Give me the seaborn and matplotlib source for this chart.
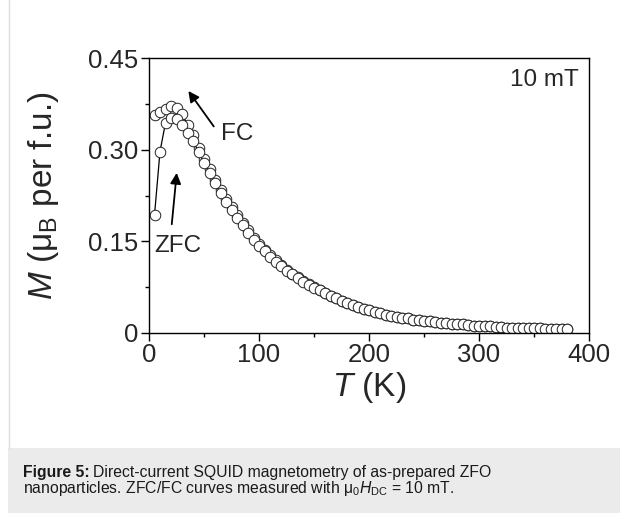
import matplotlib
matplotlib.use("Agg")
import matplotlib.pyplot as plt
from matplotlib.patches import Rectangle
from matplotlib.lines import Line2D
from matplotlib.ticker import MultipleLocator, FixedLocator
import numpy as np
import pandas as pd
import seaborn as sns

# Temperature grid (K) shared by both sweeps
temperature = [
    5, 10, 15, 20, 25, 30, 35, 40, 45, 50, 55, 60, 65, 70, 75, 80, 85, 90, 95, 100,
    105, 110, 115, 120, 125, 130, 135, 140, 145, 150, 155, 160, 165, 170, 175, 180,
    185, 190, 195, 200, 205, 210, 215, 220, 225, 230, 235, 240, 245, 250, 255, 260,
    265, 270, 275, 280, 285, 290, 295, 300, 305, 310, 315, 320, 325, 330, 335, 340,
    345, 350, 355, 360, 365, 370, 375, 380,
]

# Field-cooled magnetisation (mu_B per f.u.)
m_fc = [
    0.357, 0.361, 0.367, 0.372, 0.369, 0.358, 0.341, 0.324, 0.303, 0.285,
    0.268, 0.250, 0.234, 0.220, 0.206, 0.193, 0.180, 0.168, 0.156, 0.146,
    0.136, 0.127, 0.119, 0.111, 0.103, 0.097, 0.091, 0.085, 0.080, 0.075,
    0.070, 0.066, 0.061, 0.057, 0.053, 0.049, 0.046, 0.043, 0.040, 0.037,
    0.035, 0.032, 0.030, 0.028, 0.027, 0.025, 0.024, 0.022, 0.021, 0.020,
    0.019, 0.018, 0.017, 0.016, 0.015, 0.014, 0.014, 0.013, 0.012, 0.012,
    0.011, 0.011, 0.010, 0.010, 0.009, 0.009, 0.009, 0.008, 0.008, 0.008,
    0.008, 0.007, 0.007, 0.007, 0.006, 0.006,
]

# Zero-field-cooled magnetisation (mu_B per f.u.)
m_zfc = [
    0.193, 0.297, 0.344, 0.352, 0.350, 0.340, 0.328, 0.314, 0.297, 0.279,
    0.262, 0.245, 0.229, 0.215, 0.201, 0.188, 0.176, 0.164, 0.153, 0.143,
    0.134, 0.125, 0.117, 0.110, 0.102, 0.096, 0.090, 0.084, 0.079, 0.074,
    0.070, 0.066, 0.061, 0.057, 0.053, 0.049, 0.046, 0.043, 0.040, 0.037,
    0.035, 0.032, 0.030, 0.028, 0.027, 0.025, 0.024, 0.022, 0.021, 0.020,
    0.019, 0.018, 0.017, 0.016, 0.015, 0.014, 0.014, 0.013, 0.012, 0.012,
    0.011, 0.011, 0.010, 0.010, 0.009, 0.009, 0.009, 0.008, 0.008, 0.008,
    0.008, 0.007, 0.007, 0.007, 0.006, 0.006,
]

x_ticks = [0, 100, 200, 300, 400]
y_ticks = [0, 0.15, 0.30, 0.45]
y_tick_labels = ["0", "0.15", "0.30", "0.45"]

sns.set_style("ticks")
plt.rcParams["font.family"] = ["Liberation Sans", "DejaVu Sans"]
plt.rcParams["mathtext.fontset"] = "custom"
plt.rcParams["mathtext.rm"] = "Liberation Sans"
plt.rcParams["mathtext.it"] = "Liberation Sans:italic"
plt.rcParams["mathtext.bf"] = "Liberation Sans:bold"

fig = plt.figure(figsize=(6.2, 5.13), dpi=100)
fig.patch.set_facecolor("white")

# caption panel and left frame rule
fig.add_artist(Rectangle((8 / 620, 0), 1 - 8 / 620, 65 / 513,
                         transform=fig.transFigure, facecolor="#ebebeb",
                         edgecolor="none", zorder=0))
fig.add_artist(Line2D([9 / 620, 9 / 620], [65 / 513, 1],
                      transform=fig.transFigure, color="#dcdcdc", lw=1.0))

ax = fig.add_axes([149 / 620, 1 - 333 / 513, 440 / 620, 275 / 513])

df = pd.DataFrame({"T": temperature, "FC": m_fc, "ZFC": m_zfc})
marker_kw = dict(marker="o", markersize=7.6, markerfacecolor="white",
                 markeredgecolor="#222222", markeredgewidth=0.7,
                 color="black", linewidth=0.9)
sns.lineplot(data=df, x="T", y="FC", ax=ax, estimator=None, sort=False, **marker_kw)
sns.lineplot(data=df, x="T", y="ZFC", ax=ax, estimator=None, sort=False, **marker_kw)

ax.set_xlim(0, 400)
ax.set_ylim(0, 0.45)
ax.xaxis.set_major_locator(FixedLocator(x_ticks))
ax.xaxis.set_minor_locator(MultipleLocator(50))
ax.yaxis.set_major_locator(FixedLocator(y_ticks))
ax.set_yticklabels(y_tick_labels)
ax.yaxis.set_minor_locator(MultipleLocator(0.075))
ax.tick_params(which="major", direction="out", length=5.5, width=1.0,
               labelsize=18.5, color="black", pad=2)
ax.tick_params(which="minor", direction="out", length=2.8, width=1.0, color="black")
for s in ax.spines.values():
    s.set_linewidth(1.0)
    s.set_color("black")

ax.set_xlabel(r"$T$ (K)", fontsize=24)
ax.set_ylabel(r"$M$ (μ$_\mathrm{B}$ per f.u.)", fontsize=24)
ax.xaxis.set_label_coords(0.5, -0.135)
ax.yaxis.set_label_coords(-0.2, 0.5)

ann_fs = 17.5
arrow_kw = dict(arrowstyle="-|>", color="black", lw=1.3, mutation_scale=16,
                shrinkA=0, shrinkB=0)
ax.annotate("", xy=(35.8, 0.396), xytext=(58.9, 0.338), arrowprops=arrow_kw)
ax.text(80.6, 0.325, "FC", fontsize=ann_fs, ha="center", va="center")
ax.annotate("", xy=(25.2, 0.262), xytext=(20.7, 0.178), arrowprops=arrow_kw)
ax.text(26, 0.143, "ZFC", fontsize=ann_fs, ha="center", va="center")
ax.text(391, 0.414, "10 mT", fontsize=ann_fs, ha="right", va="center")

# caption: bold label followed by regular text on the same baseline
cap_fs = 11.3
cap_color = "#1a1a1a"
y1 = 1 - 476.7 / 513
y2 = 1 - 493.5 / 513
head = fig.text(22.7 / 620, y1, "Figure 5:", fontsize=cap_fs, fontweight="bold",
                ha="left", va="baseline", color=cap_color)
fig.canvas.draw()
bb = head.get_window_extent(renderer=fig.canvas.get_renderer())
x_rest = (bb.x1 + 4) / fig.bbox.width
fig.text(x_rest, y1, "Direct-current SQUID magnetometry of as-prepared ZFO",
         fontsize=cap_fs, ha="left", va="baseline", color=cap_color)
fig.text(22.7 / 620, y2,
         r"nanoparticles. ZFC/FC curves measured with μ$_0$$H_\mathrm{DC}$ = 10 mT.",
         fontsize=cap_fs, ha="left", va="baseline", color=cap_color)

fig.savefig("out.png", dpi=100)
